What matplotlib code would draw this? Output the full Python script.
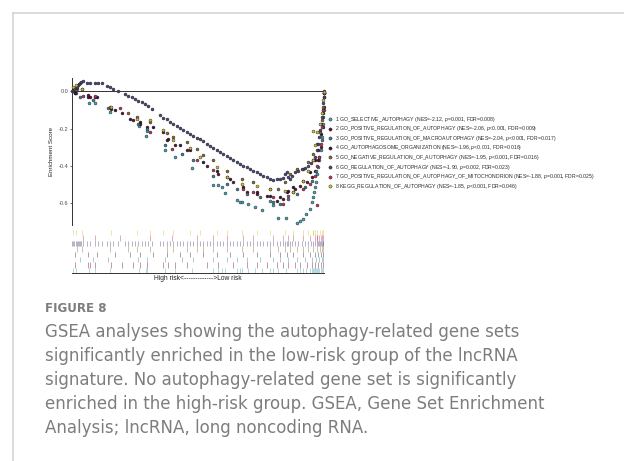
import matplotlib
matplotlib.use("Agg")
import matplotlib.pyplot as plt
from matplotlib.lines import Line2D

plt.rcParams["font.family"] = ["Liberation Sans", "DejaVu Sans"]
plt.rcParams["axes.unicode_minus"] = False
plt.rcParams["mathtext.fontset"] = "custom"
plt.rcParams["mathtext.it"] = "Liberation Sans:italic"
plt.rcParams["mathtext.rm"] = "Liberation Sans"

# gene-set names and stats, in legend order
SET_NAMES = [
    "GO_SELECTIVE_AUTOPHAGY",
    "GO_POSITIVE_REGULATION_OF_AUTOPHAGY",
    "GO_POSITIVE_REGULATION_OF_MACROAUTOPHAGY",
    "GO_AUTOPHAGOSOME_ORGANIZATION",
    "GO_NEGATIVE_REGULATION_OF_AUTOPHAGY",
    "GO_REGULATION_OF_AUTOPHAGY",
    "GO_POSITIVE_REGULATION_OF_AUTOPHAGY_OF_MITOCHONDRION",
    "KEGG_REGULATION_OF_AUTOPHAGY",
]
NES = ["-2.12", "-2.06", "-2.04", "-1.96", "-1.95", "-1.90", "-1.88", "-1.85"]
PVAL = ["=0.001", "<0.001", "<0.001", "<0.001", "<0.001", "=0.002", "=0.001", "<0.001"]
FDR = ["0.008", "0.009", "0.017", "0.016", "0.016", "0.023", "0.025", "0.046"]
COLORS = ["#3fa7b5", "#6a0f2b", "#3e7d98", "#2b1b3c",
          "#8c6a2c", "#4a4778", "#c03360", "#d2c232"]

# running enrichment score (rank position 0-1000, ES)
RANK_1 = [7, 17, 70, 92, 152, 267, 295, 297, 370, 410, 476, 561, 581, 594, 608,
          654, 667, 674, 700, 727, 753, 786, 799, 819, 849, 894, 905, 918, 927,
          945, 951, 958, 962, 966, 968, 971, 976, 982, 987, 992, 996, 999, 1000]
ES_1 = [0.004, -0.011, -0.065, -0.061, -0.110, -0.186, -0.241, -0.213, -0.314,
        -0.350, -0.413, -0.501, -0.501, -0.515, -0.548, -0.584, -0.591, -0.596,
        -0.605, -0.623, -0.634, -0.587, -0.609, -0.677, -0.681, -0.708, -0.695,
        -0.686, -0.659, -0.632, -0.596, -0.569, -0.542, -0.515, -0.488, -0.443,
        -0.407, -0.371, -0.317, -0.245, -0.173, -0.101, -0.011]

RANK_2 = [13, 66, 73, 92, 156, 198, 244, 271, 297, 363, 383, 410, 456, 535, 581,
          641, 694, 733, 773, 812, 839, 859, 885, 905, 931, 951, 964, 978, 987,
          995, 999, 1000]
ES_2 = [-0.011, -0.020, -0.029, -0.029, -0.097, -0.119, -0.155, -0.173, -0.191,
        -0.218, -0.254, -0.290, -0.317, -0.398, -0.443, -0.488, -0.542, -0.551,
        -0.560, -0.587, -0.578, -0.533, -0.524, -0.506, -0.488, -0.461, -0.425,
        -0.371, -0.299, -0.191, -0.083, -0.011]

RANK_3 = [33, 86, 145, 264, 297, 370, 436, 482, 561, 614, 654, 694, 746, 799,
          826, 859, 892, 925, 951, 968, 982, 991, 997, 1000]
ES_3 = [-0.029, -0.047, -0.092, -0.173, -0.200, -0.290, -0.335, -0.371, -0.452,
        -0.497, -0.524, -0.551, -0.569, -0.596, -0.605, -0.578, -0.551, -0.515,
        -0.479, -0.425, -0.353, -0.263, -0.137, -0.029]

RANK_4 = [13, 66, 99, 172, 231, 271, 324, 376, 429, 469, 522, 575, 627, 680,
          733, 786, 826, 852, 878, 918, 945, 964, 978, 988, 995, 1000]
ES_4 = [-0.011, -0.029, -0.029, -0.101, -0.146, -0.164, -0.191, -0.263, -0.290,
        -0.317, -0.380, -0.425, -0.470, -0.515, -0.542, -0.560, -0.569, -0.542,
        -0.515, -0.479, -0.434, -0.371, -0.317, -0.227, -0.119, -0.011]

RANK_5 = [20, 40, 152, 225, 258, 310, 376, 403, 456, 495, 522, 561, 614, 674,
          720, 786, 819, 845, 865, 892, 918, 938, 958, 974, 984, 992, 997, 1000]
ES_5 = [0.011, 0.011, -0.083, -0.119, -0.137, -0.164, -0.223, -0.245, -0.272,
        -0.308, -0.344, -0.371, -0.425, -0.470, -0.488, -0.524, -0.524, -0.488,
        -0.443, -0.416, -0.416, -0.380, -0.335, -0.281, -0.218, -0.155, -0.083,
        -0.011]

RANK_6 = [3, 7, 11, 16, 20, 24, 29, 33, 38, 44, 59, 73, 92, 106, 119, 139, 152,
          165, 185, 211, 225, 238, 251, 264, 277, 291, 304, 317, 350, 363, 376,
          390, 403, 416, 429, 443, 456, 469, 482, 495, 509, 522, 535, 548, 561,
          575, 588, 601, 614, 627, 641, 654, 667, 680, 694, 707, 720, 733, 746,
          759, 773, 786, 799, 812, 826, 836, 845, 852, 859, 865, 875, 885, 898,
          911, 925, 938, 947, 955, 964, 971, 978, 982, 985, 989, 992, 995, 997,
          999, 1000]
ES_6 = [0.000, 0.007, 0.011, 0.018, 0.025, 0.032, 0.040, 0.043, 0.050, 0.054,
        0.047, 0.047, 0.047, 0.043, 0.043, 0.029, 0.022, 0.014, 0.002, -0.016,
        -0.025, -0.032, -0.043, -0.050, -0.059, -0.068, -0.079, -0.094, -0.128,
        -0.141, -0.151, -0.164, -0.175, -0.186, -0.196, -0.205, -0.216, -0.227,
        -0.238, -0.250, -0.258, -0.268, -0.281, -0.292, -0.303, -0.314, -0.323,
        -0.335, -0.346, -0.357, -0.368, -0.380, -0.389, -0.400, -0.407, -0.416,
        -0.425, -0.434, -0.443, -0.452, -0.461, -0.468, -0.474, -0.472, -0.468,
        -0.465, -0.443, -0.434, -0.458, -0.472, -0.452, -0.431, -0.425, -0.418,
        -0.411, -0.400, -0.386, -0.371, -0.353, -0.317, -0.281, -0.245, -0.209,
        -0.173, -0.137, -0.101, -0.065, -0.029, 0.000]

RANK_7 = [46, 92, 192, 310, 396, 495, 561, 614, 680, 720, 799, 836, 859, 878,
          918, 945, 964, 972, 974, 982, 987, 992, 997, 1000]
ES_7 = [-0.025, -0.025, -0.092, -0.218, -0.308, -0.371, -0.422, -0.461, -0.524,
        -0.542, -0.569, -0.605, -0.560, -0.542, -0.524, -0.497, -0.452, -0.609,
        -0.398, -0.353, -0.281, -0.191, -0.101, -0.011]

RANK_8 = [7, 17, 40, 155, 258, 310, 363, 403, 469, 509, 575, 614, 674, 733, 786,
          845, 878, 918, 938, 958, 955, 964, 974, 984, 992, 997, 1000]
ES_8 = [0.025, 0.034, 0.011, -0.083, -0.146, -0.155, -0.209, -0.263, -0.303,
        -0.353, -0.404, -0.458, -0.497, -0.506, -0.524, -0.533, -0.542, -0.479,
        -0.425, -0.213, -0.371, -0.290, -0.218, -0.173, -0.119, -0.047, -0.002]

RANKS = [RANK_1, RANK_2, RANK_3, RANK_4, RANK_5, RANK_6, RANK_7, RANK_8]
SCORES = [ES_1, ES_2, ES_3, ES_4, ES_5, ES_6, ES_7, ES_8]

Y_TICKS = [-0.6, -0.4, -0.2, 0.0]

CAPTION_TITLE = "FIGURE 8"
CAPTION_LINES = [
    "GSEA analyses showing the autophagy-related gene sets",
    "significantly enriched in the low-risk group of the lncRNA",
    "signature. No autophagy-related gene set is significantly",
    "enriched in the high-risk group. GSEA, Gene Set Enrichment",
    "Analysis; lncRNA, long noncoding RNA.",
]

W, H = 624, 461


def fx(px):
    return px / W


def fy(py):
    return 1 - py / H


fig = plt.figure(figsize=(6.24, 4.61), dpi=100)

# light frame of the figure box
fig.add_artist(Line2D([fx(13), 1], [fy(13), fy(13)], color="#d4d4d4", lw=1.2))
fig.add_artist(Line2D([fx(13), fx(13)], [fy(13), 0], color="#d4d4d4", lw=1.2))

# main running-score panel
ax = fig.add_axes([fx(71.7), fy(225), fx(324) - fx(71.7), fy(78.3) - fy(225)])
for i in range(8):
    ax.scatter(RANKS[i], SCORES[i], s=4.5, c=COLORS[i], edgecolors="#1a1a1a",
               linewidths=0.3, zorder=3, clip_on=False)
ax.axhline(0, color="#333333", lw=0.7, zorder=1)
ax.set_xlim(0, 1000)
ax.set_ylim(-0.717, 0.0697)
for side in ["top", "right", "bottom"]:
    ax.spines[side].set_visible(False)
ax.spines["left"].set_color("#333333")
ax.spines["left"].set_linewidth(0.7)
ax.set_xticks([])
ax.set_yticks(Y_TICKS)
ax.set_yticklabels([f"{v:.1f}" for v in Y_TICKS])
ax.tick_params(axis="y", length=1.5, width=0.5, color="#333333", pad=1,
               labelsize=4, labelcolor="#4d4d4d")
ax.set_ylabel("Enrichment Score", fontsize=4.5, color="#222222", labelpad=3)

# rug of gene-set hits
rug = fig.add_axes([fx(71.7), fy(273.3), fx(324) - fx(71.7), fy(230) - fy(273.3)])
for i in range(8):
    rug.vlines(RANKS[i], i, i + 1, colors=COLORS[i], alpha=0.42, lw=0.7)
rug.set_xlim(0, 1000)
rug.set_ylim(0, 8)
for side in ["top", "right", "left"]:
    rug.spines[side].set_visible(False)
rug.spines["bottom"].set_color("#333333")
rug.spines["bottom"].set_linewidth(0.7)
rug.set_xticks([])
rug.set_yticks([])
fig.text(fx(198), fy(278.5), "High risk<------------->Low risk", fontsize=4.8,
         color="#222222", ha="center", va="center")

# legend
for i in range(8):
    y = fy(119 + 9.6 * i)
    fig.add_artist(Line2D([fx(329.5)], [y], marker="o", markersize=2.3,
                          markerfacecolor=COLORS[i], markeredgecolor="#1a1a1a",
                          markeredgewidth=0.3, linestyle="none"))
    label = (f"{i + 1} {SET_NAMES[i]} (NES={NES[i]}, $p${PVAL[i]}, "
             f"FDR={FDR[i]})")
    fig.text(fx(335), y, label, fontsize=3.7, color="#2a2a2a",
             ha="left", va="center")

# caption
fig.text(fx(45), fy(309), CAPTION_TITLE, fontsize=8.6, fontweight="bold",
         family=["DejaVu Sans"], color="#7d7d7d",
         ha="left", va="center")
for k, line in enumerate(CAPTION_LINES):
    fig.text(fx(45), fy(332 + 24 * k), line, fontsize=11.95,
             family=["DejaVu Sans"], color="#7d7d7d",
             ha="left", va="center")

fig.savefig("out.png", dpi=100)
